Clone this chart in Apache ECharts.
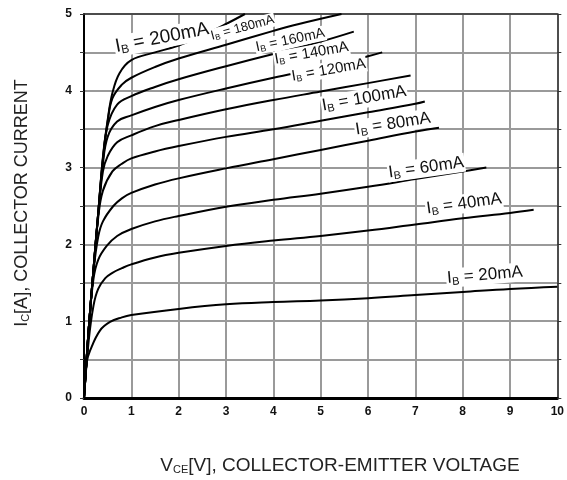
<!DOCTYPE html>
<html><head><meta charset="utf-8">
<script src="https://cdn.jsdelivr.net/npm/echarts@6/dist/echarts.min.js"></script>
<style>html,body{margin:0;padding:0;background:#fff}#c{width:567px;height:480px}</style>
</head><body><div id="c"></div>
<script>
// Collector current curves: [VCE (V), IC (A)]
const ib20  = [[0,0],[0.06,0.47],[0.13,0.62],[0.34,0.88],[0.55,0.99],[0.8,1.05],[1,1.08],[2,1.16],[3,1.22],[4,1.25],[5,1.27],[6,1.30],[7,1.34],[8,1.38],[9,1.42],[10,1.45]];
const ib40  = [[0,0],[0.1,0.75],[0.2,1.2],[0.3,1.42],[0.45,1.56],[0.6,1.63],[0.8,1.69],[1,1.74],[1.5,1.83],[2,1.89],[3,1.98],[4,2.05],[5,2.11],[6,2.18],[7,2.26],[8,2.34],[9,2.41],[9.5,2.45]];
const ib60  = [[0,0],[0.1,0.9],[0.2,1.55],[0.3,1.8],[0.48,1.98],[0.7,2.11],[1,2.2],[1.5,2.3],[2,2.37],[3,2.49],[4,2.58],[5,2.66],[6,2.75],[7,2.85],[8,2.95],[8.5,3.0]];
const ib80  = [[0,0],[0.1,0.9],[0.2,1.65],[0.3,2.1],[0.4,2.3],[0.62,2.5],[0.8,2.6],[1,2.67],[1.5,2.78],[2,2.86],[3,2.99],[4,3.11],[5,3.23],[6,3.35],[7,3.47],[7.5,3.52]];
const ib100 = [[0,0],[0.1,0.9],[0.2,1.67],[0.3,2.35],[0.4,2.7],[0.6,2.95],[0.8,3.05],[1,3.12],[1.5,3.21],[2,3.28],[3,3.4],[4,3.5],[5,3.61],[6,3.72],[7,3.83],[7.2,3.86]];
const ib120 = [[0,0],[0.1,0.9],[0.2,1.67],[0.3,2.4],[0.4,2.95],[0.5,3.15],[0.7,3.33],[1,3.42],[1.5,3.54],[2,3.62],[3,3.76],[4,3.88],[5,3.99],[6,4.1],[6.9,4.2]];
const ib140 = [[0,0],[0.1,0.9],[0.2,1.67],[0.3,2.4],[0.4,3.05],[0.5,3.4],[0.7,3.6],[1,3.68],[1.5,3.79],[2,3.88],[3,4.03],[4,4.17],[5,4.3],[6,4.45],[6.3,4.5]];
const ib160 = [[0,0],[0.1,0.9],[0.2,1.67],[0.3,2.4],[0.4,3.1],[0.5,3.55],[0.7,3.82],[1,3.93],[1.5,4.05],[2,4.15],[3,4.32],[4,4.48],[5,4.64],[5.7,4.77]];
const ib180 = [[0,0],[0.1,0.9],[0.2,1.67],[0.3,2.4],[0.4,3.12],[0.5,3.6],[0.6,3.9],[0.8,4.08],[1,4.17],[1.5,4.31],[2,4.42],[3,4.6],[4,4.78],[4.54,4.87],[5.44,5.0]];
const ib200 = [[0,0],[0.1,0.9],[0.2,1.67],[0.3,2.4],[0.4,3.14],[0.5,3.62],[0.6,3.97],[0.75,4.23],[1,4.4],[1.5,4.5],[2,4.59],[2.5,4.72],[3,4.87],[3.4,5.0]];

const curveNames = ['20mA','40mA','60mA','80mA','100mA','120mA','140mA','160mA','180mA','200mA'];
const curves = [ib20, ib40, ib60, ib80, ib100, ib120, ib140, ib160, ib180, ib200];
// label anchor [VCE, IC], rotation, font size
const labelPos = [[8.47,1.6],[8.03,2.53],[7.23,3.0],[6.53,3.57],[5.92,3.9],[5.17,4.27],[4.81,4.49],[4.36,4.66],[3.35,4.82],[1.65,4.69]];
const labelRot = [5,8,8,9,10,10,10,12,15,11];
const labelSize = [17,17,17,17,17,15,15,14,13,19];

const xTicks = [0,1,2,3,4,5,6,7,8,9,10];
const yTicks = [0,1,2,3,4,5];

const FONT = '"Liberation Sans", Arial, sans-serif';
const chart = echarts.init(document.getElementById('c'), null, {renderer:'canvas'});

const series = curves.map((d,i) => ({
  type:'line', data:d, smooth:0.4, showSymbol:false, symbol:'none',
  lineStyle:{color:'#000', width:2}, silent:true, z:3,
  markPoint:{
    symbol:'circle', symbolSize:0, silent:true,
    data:[{coord:labelPos[i], value:curveNames[i]}],
    label:{
      show:true, position:'inside', rotate:labelRot[i],
      backgroundColor:'#fff', padding:[0,1,0,1],
      formatter:'{m|I}{s|B}{m| = ' + curveNames[i] + '}',
      rich:{
        m:{fontFamily:FONT, fontSize:labelSize[i], color:'#111'},
        s:{fontFamily:FONT, fontSize:Math.round(labelSize[i]*0.62), color:'#111', verticalAlign:'bottom', padding:[Math.round(labelSize[i]*0.45),0,0,0]}
      }
    }
  }
}));

chart.setOption({
  animation:false,
  backgroundColor:'#fff',
  grid:{left:84, right:7, top:14, bottom:82},
  xAxis:[{
    type:'value', min:0, max:10, interval:1,
    axisLine:{show:true, onZero:false, lineStyle:{color:'#000', width:3}},
    axisTick:{show:false},
    axisLabel:{color:'#111', fontFamily:FONT, fontWeight:'bold', fontSize:12, margin:8,
      formatter:v => xTicks.includes(v) ? String(v) : ''},
    splitLine:{show:true, lineStyle:{color:'#9a9a9a', width:2}}
  },{
    type:'value', min:0, max:10, interval:1, position:'top',
    axisLine:{show:true, onZero:false, lineStyle:{color:'#333', width:1.5}},
    axisTick:{show:false}, axisLabel:{show:false}, splitLine:{show:false}
  }],
  yAxis:[{
    type:'value', min:0, max:5, interval:0.5,
    axisLine:{show:true, onZero:false, lineStyle:{color:'#000', width:2}},
    axisTick:{show:true, length:4, lineStyle:{color:'#333'}},
    axisLabel:{color:'#111', fontFamily:FONT, fontWeight:'bold', fontSize:12, margin:12,
      formatter:v => yTicks.includes(v) ? String(v) : ''},
    splitLine:{show:true, lineStyle:{color:'#9a9a9a', width:2}}
  },{
    type:'value', min:0, max:5, interval:0.5, position:'right',
    axisLine:{show:true, onZero:false, lineStyle:{color:'#333', width:1.5}},
    axisTick:{show:true, length:4, lineStyle:{color:'#333'}},
    axisLabel:{show:false}, splitLine:{show:false}
  }],
  graphic:[
    {type:'text', x:340, y:466, style:{
      text:'{m|V}{s|CE}{m|[V], COLLECTOR-EMITTER VOLTAGE}', align:'center', verticalAlign:'middle',
      rich:{ m:{fontFamily:FONT, fontSize:19, fill:'#222'},
             s:{fontFamily:FONT, fontSize:11, fill:'#222', verticalAlign:'bottom', padding:[7,0,0,0]} } }},
    {type:'text', x:22, y:203, rotation:Math.PI/2, style:{
      text:'{m|I}{s|C}{m|[A], COLLECTOR CURRENT}', align:'center', verticalAlign:'middle',
      rich:{ m:{fontFamily:FONT, fontSize:18, fill:'#222'},
             s:{fontFamily:FONT, fontSize:11, fill:'#222', verticalAlign:'bottom', padding:[7,0,0,0]} } }}
  ],
  series: series
});
</script></body></html>
